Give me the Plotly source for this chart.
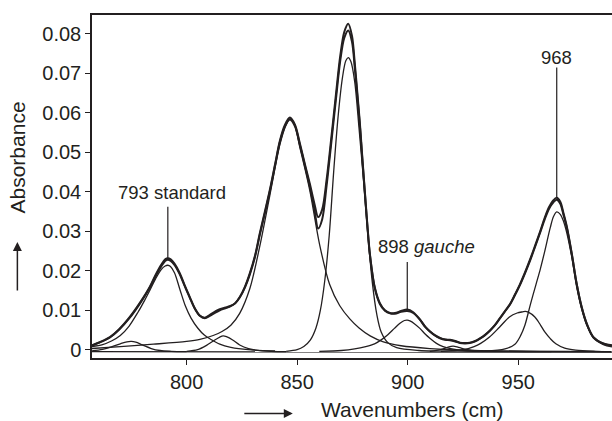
import plotly.graph_objects as go

# ---------------- data ----------------
total_x = [757, 761, 765.3, 769.5, 774.3, 779, 783.3, 786, 788.5, 790.3, 791.5, 792.8, 794.5, 796.9, 799,
           801.4, 803.7, 806, 808.2, 810.5, 813, 815, 817.5, 819.5, 822, 824.1, 826.4, 828.6, 831, 833.1,
           835.4, 837.6, 840, 842.2, 844.5, 846.7, 849, 851.2, 853.5, 855.7, 857.8, 859.5, 861.3, 863.3,
           865.5, 867.6, 869.5, 871.3, 873.1, 874.8, 876.1, 877.3, 878.4, 879.5, 880.6, 881.7, 882.9, 885.1,
           887.4, 889.7, 892, 894.2, 897, 899.8, 902.5, 905.5, 908, 910, 912.3, 914.6, 917, 919.1, 921.5,
           923.6, 926, 928.1, 930.5, 932.7, 935, 937.2, 939.5, 941.7, 944, 946.2, 948.5, 950.7, 953, 955.3,
           957.5, 959.8, 962, 964, 965.8, 967.4, 969, 970.5, 972, 974.2, 976.4, 978.7, 981, 984, 988.5, 992.4]

fit_y = [0.0011, 0.0020, 0.0032, 0.0052, 0.0083, 0.0120, 0.0159, 0.0190, 0.0215, 0.0229, 0.0232, 0.0229,
         0.0218, 0.0194, 0.0165, 0.0134, 0.0105, 0.0086, 0.0080, 0.0086, 0.0094, 0.0100, 0.0105, 0.0109,
         0.0118, 0.0134, 0.0160, 0.0194, 0.0240, 0.0295, 0.0350, 0.0404, 0.0470, 0.0530, 0.0570, 0.0588,
         0.0570, 0.0523, 0.0470, 0.0421, 0.0370, 0.0336, 0.0355, 0.0430, 0.0540, 0.0650, 0.0745, 0.0805,
         0.0826, 0.0795, 0.0723, 0.0645, 0.0571, 0.0485, 0.0402, 0.0320, 0.0242, 0.0158, 0.0118, 0.0100,
         0.0093, 0.0093, 0.0098, 0.0102, 0.0095, 0.0077, 0.0058, 0.0047, 0.0037, 0.0030, 0.0026, 0.0025,
         0.0022, 0.0018, 0.0017, 0.0018, 0.0022, 0.0029, 0.0038, 0.0049, 0.0063, 0.0080, 0.0098, 0.0115,
         0.0140, 0.0165, 0.0195, 0.0228, 0.0262, 0.0298, 0.0335, 0.0362, 0.0378, 0.0385, 0.0375, 0.0345,
         0.0311, 0.0244, 0.0168, 0.0108, 0.0066, 0.0032, 0.0016, 0.0011]

measured_y = [0.0010, 0.0019, 0.0031, 0.0051, 0.0081, 0.0118, 0.0157, 0.0187, 0.0211, 0.0225, 0.0228, 0.0225,
              0.0215, 0.0191, 0.0163, 0.0132, 0.0104, 0.0086, 0.0081, 0.0088, 0.0097, 0.0103, 0.0107, 0.0110,
              0.0118, 0.0133, 0.0158, 0.0191, 0.0237, 0.0291, 0.0346, 0.0400, 0.0466, 0.0526, 0.0566, 0.0583,
              0.0566, 0.0519, 0.0466, 0.0414, 0.0355, 0.0307, 0.0330, 0.0415, 0.0528, 0.0638, 0.0733, 0.0790,
              0.0809, 0.0780, 0.0712, 0.0637, 0.0565, 0.0480, 0.0398, 0.0317, 0.0240, 0.0156, 0.0116, 0.0099,
              0.0092, 0.0091, 0.0096, 0.0098, 0.0093, 0.0076, 0.0057, 0.0046, 0.0036, 0.0029, 0.0025, 0.0024,
              0.0021, 0.0017, 0.0016, 0.0017, 0.0021, 0.0028, 0.0037, 0.0048, 0.0062, 0.0079, 0.0097, 0.0114,
              0.0138, 0.0163, 0.0193, 0.0225, 0.0259, 0.0295, 0.0331, 0.0358, 0.0373, 0.0380, 0.0370, 0.0341,
              0.0308, 0.0242, 0.0167, 0.0107, 0.0065, 0.0031, 0.0015, 0.0010]

c775_x = [757, 762, 766, 770, 773, 775, 777, 780, 784, 788, 793, 800]
c775_y = [-0.0003, 0.0001, 0.0007, 0.0015, 0.0020, 0.0021, 0.0019, 0.0012, 0.0003, -0.0002, -0.0004, -0.0005]

c793_x = [757, 762, 766, 770, 774, 778, 781, 783.5, 786, 788.5, 790.3, 791.5, 792.7, 794.5, 797, 799.5,
          802, 805, 808, 811, 815, 820, 828, 840]
c793_y = [0.0008, 0.0013, 0.0022, 0.0036, 0.0060, 0.0095, 0.0125, 0.0152, 0.0180, 0.0203, 0.0212, 0.0214,
          0.0211, 0.0195, 0.0152, 0.0110, 0.0080, 0.0055, 0.0037, 0.0026, 0.0014, 0.0006, 0.0, -0.0003]

c817_x = [800, 805, 809, 812, 815, 816.5, 818, 821, 824, 828, 834, 845]
c817_y = [-0.0004, 0.0000, 0.0011, 0.0022, 0.0032, 0.0035, 0.0033, 0.0024, 0.0012, 0.0003, -0.0003, -0.0005]

c847_x = [757, 770, 785, 800, 806, 812, 816, 820, 824, 828.6, 833, 837.6, 842.2, 845, 846.7, 848.5, 851.2,
          855.7, 860.2, 864.7, 869.2, 873.8, 878, 883, 889, 897, 910, 930, 960, 992]
c847_y = [0.0003, 0.0008, 0.0014, 0.0021, 0.0026, 0.0036, 0.0046, 0.0062, 0.0092, 0.0155, 0.0260, 0.0390,
          0.0520, 0.0570, 0.0585, 0.0575, 0.0513, 0.0404, 0.0265, 0.0165, 0.0112, 0.0078, 0.0055, 0.0035,
          0.0020, 0.0010, 0.0003, -0.0002, -0.0004, -0.0005]

c873_x = [845, 850, 853, 856, 858.5, 860.5, 862.5, 864.5, 866.5, 868.5, 870.5, 872, 873.1, 874.3, 876, 878,
          880, 882, 884, 886, 888, 891, 895, 905, 930, 992]
c873_y = [-0.0004, 0.0000, 0.0008, 0.0025, 0.0055, 0.0100, 0.0176, 0.0290, 0.0450, 0.0590, 0.0690, 0.0732,
          0.0740, 0.0730, 0.0680, 0.0560, 0.0430, 0.0290, 0.0170, 0.0090, 0.0045, 0.0018, 0.0005, -0.0002,
          -0.0004, -0.0005]

c898_x = [860, 870, 876, 881, 885, 888, 891, 894, 896.5, 898.5, 899.8, 901, 903, 905.5, 908, 910, 913, 916,
          920, 926, 940, 965]
c898_y = [-0.0004, -0.0002, 0.0002, 0.0008, 0.0015, 0.0025, 0.0038, 0.0054, 0.0067, 0.0074, 0.0075, 0.0073,
          0.0066, 0.0054, 0.0039, 0.0029, 0.0016, 0.0008, 0.0002, -0.0002, -0.0004, -0.0005]

c920_x = [910, 915, 918, 920.5, 923, 927, 932]
c920_y = [-0.0004, 0.0000, 0.0006, 0.0009, 0.0006, 0.0000, -0.0004]

c953_x = [915, 925, 930, 933, 937, 941.5, 946, 949.5, 952, 953.2, 954.5, 957.5, 960, 962, 964.5, 967, 971,
          976, 985, 992]
c953_y = [-0.0004, 0.0000, 0.0008, 0.0016, 0.0032, 0.0057, 0.0083, 0.0093, 0.0096, 0.0097, 0.0095, 0.0083,
          0.0063, 0.0045, 0.0028, 0.0015, 0.0004, -0.0001, -0.0004, -0.0005]

c968_x = [935, 944, 948.5, 951, 953, 955.5, 958, 960, 962, 964.5, 966, 967.4, 969, 970.5, 972, 974.2, 976.4,
          978.7, 981, 984, 988.5, 992.4]
c968_y = [-0.0004, 0.0002, 0.0014, 0.0035, 0.0062, 0.0115, 0.0165, 0.0205, 0.0250, 0.0310, 0.0338, 0.0349,
          0.0343, 0.0325, 0.0295, 0.0235, 0.0160, 0.0103, 0.0062, 0.0030, 0.0013, 0.0007]

base_x = [757, 992.4]
base_y = [-0.0005, -0.0006]

y_ticks = [0, 0.01, 0.02, 0.03, 0.04, 0.05, 0.06, 0.07, 0.08]
y_tick_text = ["0", "0.01", "0.02", "0.03", "0.04", "0.05", "0.06", "0.07", "0.08"]
x_ticks = [800, 850, 900, 950]

labels = ["793 standard", "898 <i>gauche</i>", "968"]
label_peak_windows = [(785, 800), (893, 905), (960, 975)]
label_xy = [(793.2, 0.0399), (908.7, 0.0262), (967.4, 0.0740)]
label_line_top = [0.0362, 0.0222, 0.0715]

# ---------------- figure ----------------
INK = "#231f20"
FONT = "Liberation Sans, Arial, Helvetica, sans-serif"

fig = go.Figure()
components = [(c775_x, c775_y), (c793_x, c793_y), (c817_x, c817_y), (c847_x, c847_y), (c873_x, c873_y),
              (c898_x, c898_y), (c920_x, c920_y), (c953_x, c953_y), (c968_x, c968_y), (base_x, base_y)]
for cx, cy in components:
    fig.add_trace(go.Scatter(x=cx, y=cy, mode="lines", line=dict(color=INK, width=1.3, shape="spline",
                                                                   smoothing=0.9),
                             showlegend=False, hoverinfo="skip"))
for ty in (measured_y, fit_y):
    fig.add_trace(go.Scatter(x=total_x, y=ty, mode="lines", line=dict(color=INK, width=2.0, shape="spline",
                                                                        smoothing=0.9),
                             showlegend=False, hoverinfo="skip"))

annotations = []
shapes = []
for text, win, (lx, ly), top in zip(labels, label_peak_windows, label_xy, label_line_top):
    idx = [i for i, v in enumerate(total_x) if win[0] <= v <= win[1]]
    imax = max(idx, key=lambda i: fit_y[i])
    px, py = total_x[imax], fit_y[imax]
    shapes.append(dict(type="line", xref="x", yref="y", x0=px, x1=px, y0=top, y1=py,
                       line=dict(color=INK, width=1.2)))
    annotations.append(dict(x=lx, y=ly, xref="x", yref="y", text=text, showarrow=False,
                            font=dict(family=FONT, size=18.5, color=INK), xanchor="center", yanchor="middle"))

# axis titles with arrows
annotations.append(dict(x=-0.1439, y=0.585, xref="paper", yref="paper", text="Absorbance", textangle=-90,
                        xanchor="center", yanchor="middle",
                        showarrow=False, font=dict(family=FONT, size=21, color=INK)))
annotations.append(dict(x=-0.1435, y=0.338, xref="paper", yref="paper", text="", showarrow=True,
                        ax=0, ay=50, arrowhead=2, arrowsize=1.2, arrowwidth=1.5, arrowcolor=INK))
annotations.append(dict(x=0.6146, y=-0.1496, xref="paper", yref="paper", text="Wavenumbers (cm)",
                        xanchor="center", yanchor="middle",
                        showarrow=False, font=dict(family=FONT, size=21, color=INK)))
annotations.append(dict(x=0.3862, y=-0.1621, xref="paper", yref="paper", text="", showarrow=True,
                        ax=-50, ay=0, arrowhead=2, arrowsize=1.2, arrowwidth=1.5, arrowcolor=INK))

fig.update_layout(
    width=612, height=421,
    margin=dict(l=92, r=0, t=15, b=63),
    paper_bgcolor="white", plot_bgcolor="white",
    font=dict(family=FONT, size=18, color=INK),
    annotations=annotations, shapes=shapes,
    showlegend=False,
)
fig.update_xaxes(range=[757.2, 992.4], tickvals=x_ticks, ticks="outside", ticklen=5, tickwidth=1.2,
                 tickcolor=INK, showline=True, linecolor=INK, linewidth=1.5, mirror=True,
                 showgrid=False, zeroline=False, tickfont=dict(family=FONT, size=20, color=INK))
fig.update_yaxes(range=[-0.0021, 0.0848], tickvals=y_ticks, ticktext=y_tick_text, ticks="outside", ticklen=5,
                 tickwidth=1.2, tickcolor=INK, showline=True, linecolor=INK, linewidth=1.5, mirror=False,
                 showgrid=False, zeroline=False, tickfont=dict(family=FONT, size=20, color=INK))

fig.write_html("out.html")
